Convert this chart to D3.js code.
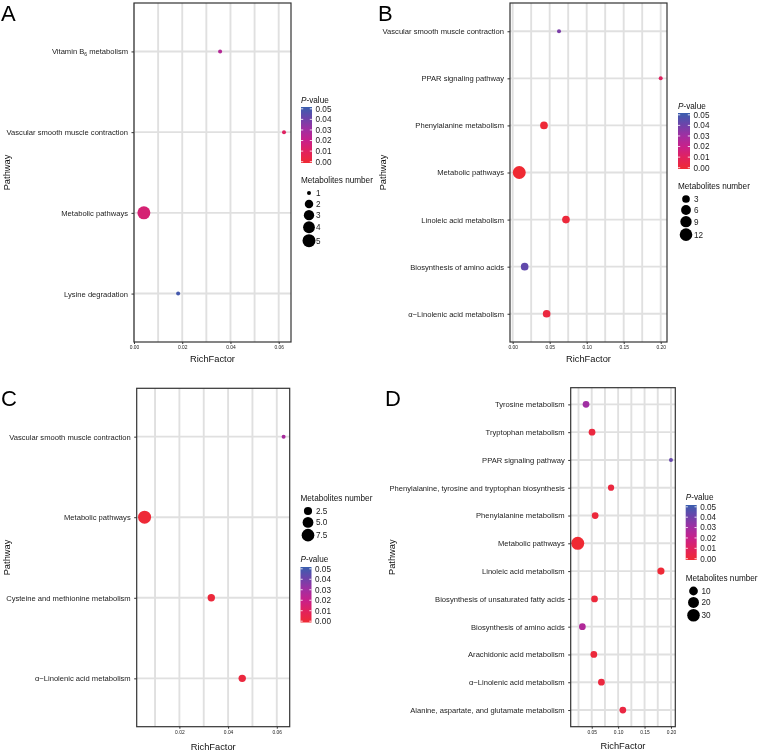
<!DOCTYPE html>
<html><head><meta charset="utf-8">
<script src="https://cdn.jsdelivr.net/npm/d3@7"></script>
<style>
body{margin:0;background:#fff}
svg{display:block;will-change:transform}
text{font-family:"Liberation Sans",Arial,Helvetica,sans-serif}
</style>
</head><body>
<svg id="chart" width="760" height="752"></svg>
<script>
// ---------- DATA ----------
// Panel A
const pathwaysA = ["Vitamin B6 metabolism","Vascular smooth muscle contraction","Metabolic pathways","Lysine degradation"];
const richA  = [0.0357, 0.0622, 0.0041, 0.0183];
const countA = [1, 1, 5, 1];
const pvalA  = [0.025, 0.011, 0.015, 0.048];
const xTicksA = [0.00, 0.02, 0.04, 0.06];
const sizeBreaksA = [1, 2, 3, 4, 5];

// Panel B
const pathwaysB = ["Vascular smooth muscle contraction","PPAR signaling pathway","Phenylalanine metabolism","Metabolic pathways","Linoleic acid metabolism","Biosynthesis of amino acids","α−Linolenic acid metabolism"];
const richB  = [0.0626, 0.2000, 0.0423, 0.0089, 0.0720, 0.0162, 0.0459];
const countB = [1, 1, 3, 13, 3, 3, 3];
const pvalB  = [0.037, 0.011, 0.001, 0.000, 0.002, 0.042, 0.003];
const xTicksB = [0.00, 0.05, 0.10, 0.15, 0.20];
const sizeBreaksB = [3, 6, 9, 12];

// Panel C
const pathwaysC = ["Vascular smooth muscle contraction","Metabolic pathways","Cysteine and methionine metabolism","α−Linolenic acid metabolism"];
const richC  = [0.0628, 0.0057, 0.0331, 0.0458];
const countC = [1, 8, 2, 2];
const pvalC  = [0.028, 0.001, 0.002, 0.003];
const xTicksC = [0.02, 0.04, 0.06];
const sizeBreaksC = [2.5, 5.0, 7.5];

// Panel D
const pathwaysD = ["Tyrosine metabolism","Tryptophan metabolism","PPAR signaling pathway","Phenylalanine, tyrosine and tryptophan biosynthesis","Phenylalanine metabolism","Metabolic pathways","Linoleic acid metabolism","Biosynthesis of unsaturated fatty acids","Biosynthesis of amino acids","Arachidonic acid metabolism","α−Linolenic acid metabolism","Alanine, aspartate, and glutamate metabolism"];
const richD  = [0.0392, 0.0506, 0.2000, 0.0866, 0.0565, 0.0235, 0.1810, 0.0553, 0.0323, 0.0540, 0.0683, 0.1089];
const countD = [4, 4, 1, 3, 4, 33, 5, 4, 4, 4, 4, 4];
const pvalD  = [0.030, 0.003, 0.041, 0.003, 0.002, 0.000, 0.001, 0.002, 0.026, 0.002, 0.003, 0.004];
const xTicksD = [0.05, 0.10, 0.15, 0.20];
const sizeBreaksD = [10, 20, 30];

const pTicks = [0.00, 0.01, 0.02, 0.03, 0.04, 0.05];
const panelLetters = ["A","B","C","D"];

// ---------- SCALES / STYLES ----------
const colorScale = d3.scaleLinear()
  .domain([0, 0.01, 0.02, 0.03, 0.04, 0.05])
  .range(["#EF2A33", "#E2225C", "#C8208A", "#A02FA2", "#6B44AA", "#3A5EAE"])
  .interpolate(d3.interpolateRgb);

function radius(v, lim){ // ggplot-like area scaling, size range 1..6
  const t = Math.max(0, Math.min(1, (v - lim[0]) / (lim[1] - lim[0])));
  const s = 1 + 5 * Math.sqrt(t);
  return (1.8 * s + 2.2) / 2;
}

const svg = d3.select("#chart");
const FONT_AXIS = 7.6, FONT_XT = 4.9, FONT_TITLE = 9.3, FONT_LEG = 8.2;
const TXT = "#222", GRID = "#E0E0E0";

const defs = svg.append("defs");
const grad = defs.append("linearGradient").attr("id","pgrad")
  .attr("x1",0).attr("y1",1).attr("x2",0).attr("y2",0);
d3.range(0, 1.0001, 0.05).forEach(t => {
  grad.append("stop").attr("offset", t).attr("stop-color", colorScale(t * 0.05));
});

function labelText(sel, d){
  sel.text(null);
  if (d.indexOf("B6") >= 0) {
    const parts = d.split("B6");
    sel.append("tspan").text(parts[0] + "B");
    sel.append("tspan").attr("font-size", 5).attr("dy", 2).text("6");
    sel.append("tspan").attr("dy", -2).text(parts[1]);
  } else sel.text(d);
}

function drawPanel(cfg){
  const g = svg.append("g");
  const x = d3.scaleLinear().domain(cfg.domain).range([cfg.left, cfg.right]);
  const y = d3.scalePoint().domain(cfg.pathways).range([cfg.top, cfg.bottom]).padding(0.6);

  // vertical grid (major + minor)
  const step = cfg.ticks[1] - cfg.ticks[0];
  const gridVals = [];
  for (let v = Math.floor(cfg.domain[0] / (step/2)) * (step/2); v <= cfg.domain[1] + 1e-9; v += step/2) {
    if (v >= cfg.domain[0] - 1e-9) gridVals.push(v);
  }
  g.selectAll(".vg").data(gridVals).join("line")
    .attr("x1", d => x(d)).attr("x2", d => x(d))
    .attr("y1", cfg.top).attr("y2", cfg.bottom)
    .attr("stroke", GRID).attr("stroke-width", 1.9);
  g.selectAll(".hg").data(cfg.pathways).join("line")
    .attr("x1", cfg.left).attr("x2", cfg.right)
    .attr("y1", d => y(d)).attr("y2", d => y(d))
    .attr("stroke", GRID).attr("stroke-width", 1.9);

  // points
  const pts = cfg.pathways.map((p, i) => ({p, r: cfg.rich[i], n: cfg.count[i], pv: cfg.pval[i]}));
  g.selectAll(".pt").data(pts).join("circle")
    .attr("cx", d => x(d.r)).attr("cy", d => y(d.p))
    .attr("r", d => radius(d.n, cfg.sizeLim))
    .attr("fill", d => colorScale(d.pv));

  // border
  g.append("rect").attr("x", cfg.left).attr("y", cfg.top)
    .attr("width", cfg.right - cfg.left).attr("height", cfg.bottom - cfg.top)
    .attr("fill", "none").attr("stroke", "#333").attr("stroke-width", 1.2);

  // y axis
  const ya = g.append("g").attr("transform", `translate(${cfg.left},0)`)
    .call(d3.axisLeft(y).tickSize(2.5).tickPadding(3.5));
  ya.select(".domain").remove();
  ya.selectAll(".tick line").attr("stroke", "#333").attr("stroke-width", 1);
  ya.selectAll(".tick text").attr("font-size", FONT_AXIS).attr("fill", TXT)
    .attr("font-family", '"Liberation Sans",Arial,sans-serif')
    .each(function(d){ labelText(d3.select(this), d); });

  // x axis
  const xa = g.append("g").attr("transform", `translate(0,${cfg.bottom})`)
    .call(d3.axisBottom(x).tickValues(cfg.ticks).tickFormat(d3.format(".2f")).tickSize(2).tickPadding(1.5));
  xa.select(".domain").remove();
  xa.selectAll(".tick line").attr("stroke", "#333").attr("stroke-width", 1);
  xa.selectAll(".tick text").attr("font-size", FONT_XT).attr("fill", TXT)
    .attr("font-family", '"Liberation Sans",Arial,sans-serif');

  // titles
  g.append("text").attr("x", (cfg.left + cfg.right) / 2).attr("y", cfg.xTitleY)
    .attr("text-anchor", "middle").attr("font-size", FONT_TITLE).attr("fill", "#111").text("RichFactor");
  g.append("text").attr("transform", `translate(${cfg.yTitleX},${(cfg.top + cfg.bottom) / 2}) rotate(-90)`)
    .attr("text-anchor", "middle").attr("font-size", FONT_TITLE).attr("fill", "#111").text("Pathway");

  // panel letter
  g.append("text").attr("x", cfg.letterX).attr("y", cfg.letterY)
    .attr("font-size", 22).attr("fill", "#000").text(cfg.letter);

  // legends
  drawColorLegend(g, cfg.pLeg);
  drawSizeLegend(g, cfg.sLeg, cfg.sizeBreaks, cfg.sizeLim, cfg.sizeFmt);
}

function drawColorLegend(g, L){
  const t = g.append("text").attr("x", L.x).attr("y", L.titleY).attr("font-size", FONT_LEG).attr("fill", "#111");
  t.append("tspan").attr("font-style", "italic").text("P");
  t.append("tspan").text("-value");
  g.append("rect").attr("x", L.x).attr("y", L.top).attr("width", L.w).attr("height", L.bottom - L.top)
    .attr("fill", "url(#pgrad)");
  const py = d3.scaleLinear().domain([0, 0.05]).range([L.bottom - 1.3, L.top + 1.8]);
  pTicks.forEach(v => {
    const yy = py(v);
    g.append("line").attr("x1", L.x).attr("x2", L.x + 2.2).attr("y1", yy).attr("y2", yy)
      .attr("stroke", "#fff").attr("stroke-width", 0.8);
    g.append("line").attr("x1", L.x + L.w - 2.2).attr("x2", L.x + L.w).attr("y1", yy).attr("y2", yy)
      .attr("stroke", "#fff").attr("stroke-width", 0.8);
    g.append("text").attr("x", L.x + L.w + 3.5).attr("y", yy).attr("dy", "0.35em")
      .attr("font-size", FONT_LEG).attr("fill", TXT).text(d3.format(".2f")(v));
  });
}

function drawSizeLegend(g, L, breaks, lim, fmt){
  g.append("text").attr("x", L.x).attr("y", L.titleY).attr("font-size", FONT_LEG).attr("fill", "#111")
    .text("Metabolites number");
  let cy = L.firstY, prevH = null;
  breaks.forEach((b, i) => {
    const r = radius(b, lim);
    const h = Math.max(11, 2 * r + 1);
    if (i > 0) cy += (prevH + h) / 2;
    prevH = h;
    g.append("circle").attr("cx", L.cx).attr("cy", cy).attr("r", r).attr("fill", "#000");
    g.append("text").attr("x", L.labelX).attr("y", cy).attr("dy", "0.35em")
      .attr("font-size", FONT_LEG).attr("fill", TXT).text(d3.format(fmt)(b));
  });
}

// ---------- PANELS ----------
drawPanel({
  letter: panelLetters[0], letterX: 1, letterY: 20.5,
  pathways: pathwaysA, rich: richA, count: countA, pval: pvalA,
  ticks: xTicksA, domain: [0.0, 0.0651], sizeLim: [1, 5], sizeBreaks: sizeBreaksA, sizeFmt: "d",
  left: 134, right: 291, top: 3, bottom: 342, xTitleY: 361.5, yTitleX: 10,
  pLeg: {x: 301, titleY: 103, top: 107, bottom: 163, w: 11},
  sLeg: {x: 301, titleY: 183, firstY: 193, cx: 309, labelX: 316}
});
drawPanel({
  letter: panelLetters[1], letterX: 378, letterY: 20.5,
  pathways: pathwaysB, rich: richB, count: countB, pval: pvalB,
  ticks: xTicksB, domain: [-0.0036, 0.2085], sizeLim: [1, 13], sizeBreaks: sizeBreaksB, sizeFmt: "d",
  left: 510, right: 667, top: 3, bottom: 342, xTitleY: 361.5, yTitleX: 386,
  pLeg: {x: 678, titleY: 108.5, top: 113, bottom: 169, w: 12},
  sLeg: {x: 678, titleY: 189, firstY: 199, cx: 686, labelX: 694}
});
drawPanel({
  letter: panelLetters[2], letterX: 1, letterY: 406,
  pathways: pathwaysC, rich: richC, count: countC, pval: pvalC,
  ticks: xTicksC, domain: [0.00247, 0.0653], sizeLim: [1, 8], sizeBreaks: sizeBreaksC, sizeFmt: ".1f",
  left: 136.7, right: 289.7, top: 388.3, bottom: 726.7, xTitleY: 749.5, yTitleX: 9.5,
  pLeg: {x: 300.5, titleY: 562, top: 567, bottom: 622.5, w: 11},
  sLeg: {x: 300.5, titleY: 500.5, firstY: 511, cx: 308, labelX: 316}
});
drawPanel({
  letter: panelLetters[3], letterX: 385, letterY: 405.5,
  pathways: pathwaysD, rich: richD, count: countD, pval: pvalD,
  ticks: xTicksD, domain: [0.0102, 0.2082], sizeLim: [1, 33], sizeBreaks: sizeBreaksD, sizeFmt: "d",
  left: 570.7, right: 675.3, top: 387.7, bottom: 726.7, xTitleY: 749, yTitleX: 395,
  pLeg: {x: 685.7, titleY: 500.3, top: 505, bottom: 560, w: 11},
  sLeg: {x: 685.7, titleY: 581, firstY: 591, cx: 693.5, labelX: 701.5}
});
</script>
</body></html>
